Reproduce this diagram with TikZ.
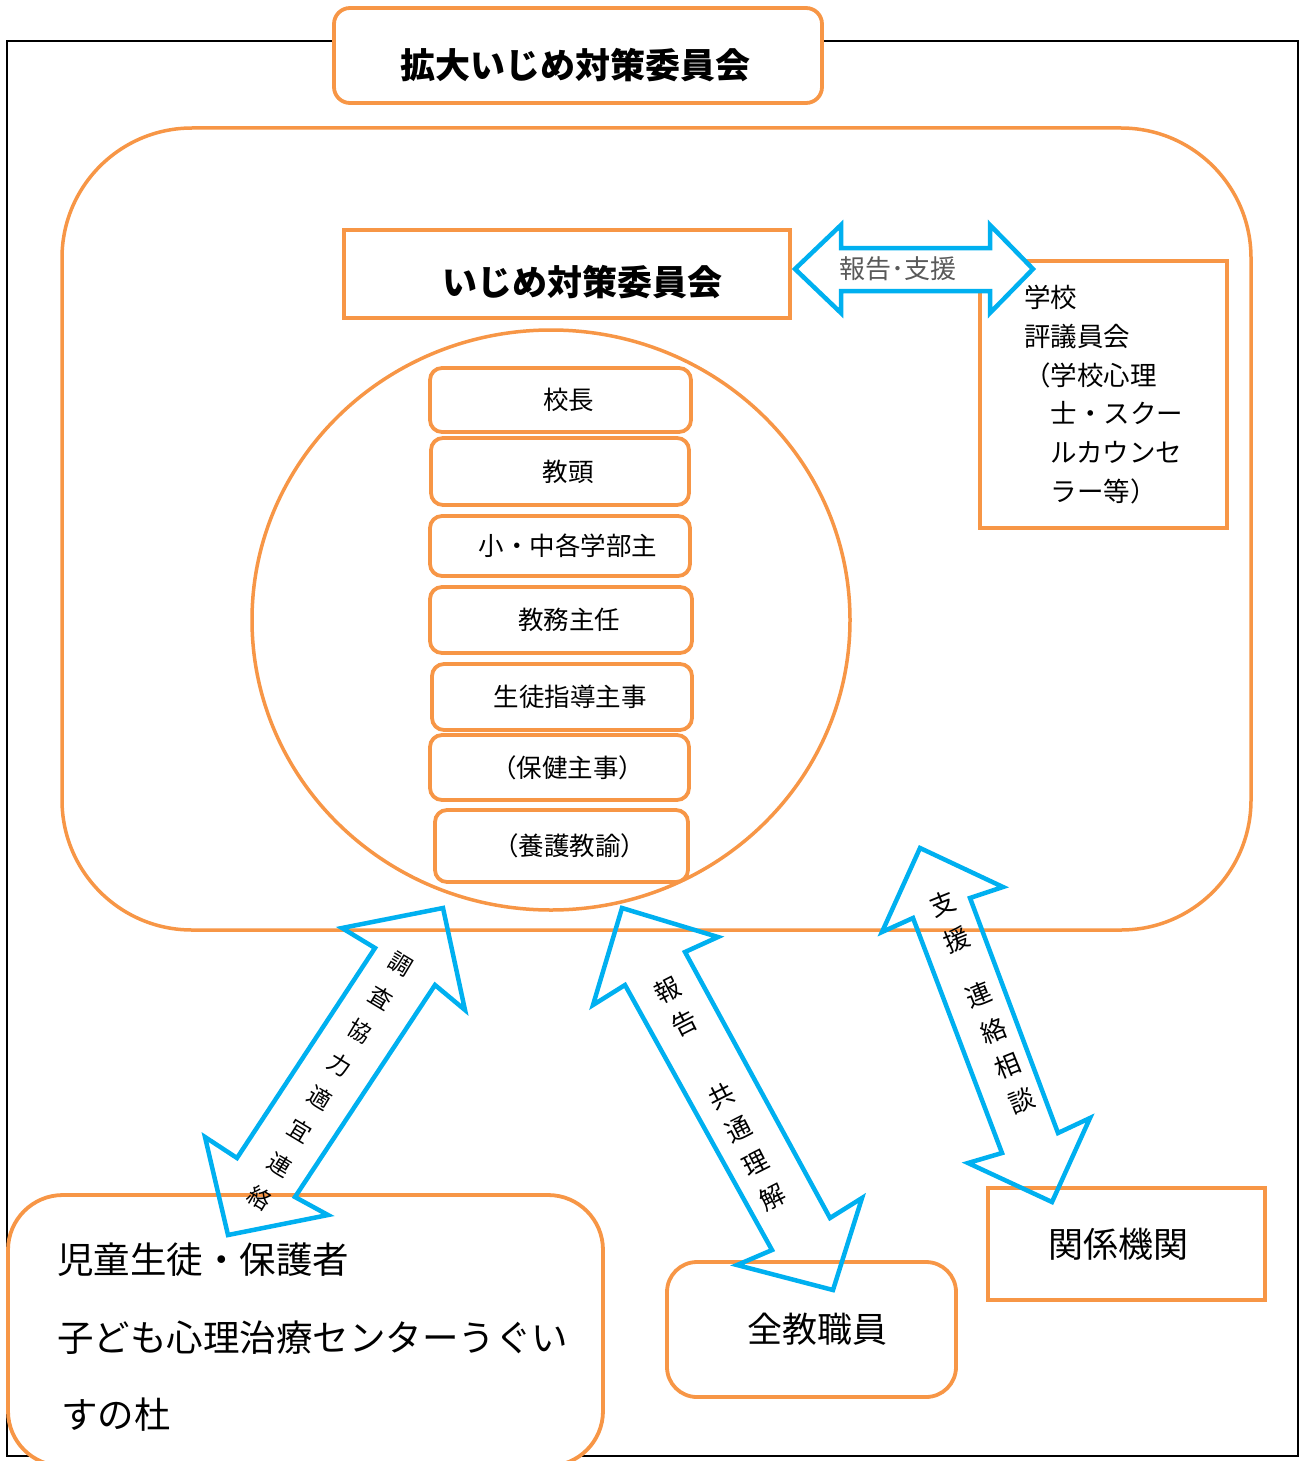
\documentclass[tikz,border=0pt]{standalone}
\usepackage{fontspec}
\setmainfont{Noto Sans CJK JP}
\usetikzlibrary{shapes.geometric}
\definecolor{org}{HTML}{F79646}
\definecolor{sky}{HTML}{00B0F0}
\definecolor{lbl}{HTML}{595959}
\begin{document}
\begin{tikzpicture}[x=1pt,y=-1pt,
  every node/.style={inner sep=0pt, outer sep=0pt},
  obox/.style={draw=org, line width=3.8pt, fill=white, rectangle},
  rbox/.style={obox, rounded corners=#1},
  stackbox/.style={obox, rounded corners=12pt, font=\fontsize{25.5}{30}\selectfont,
    execute at begin node={\hspace*{16pt}}},
  barrow/.style={draw=sky, line width=4.5pt, line join=miter},
  bigtext/.style={font=\fontsize{35}{40}\selectfont\bfseries}
]
\useasboundingbox (0,0) rectangle (1303,1461);

% outer frame
\node[draw=black, line width=1.3pt, minimum width=1291pt, minimum height=1415pt] (frame) at (652.5,748.5) {};

% title
\node[rbox=16pt, minimum width=488pt, minimum height=95pt] (title) at (578,55.5) {};
\node[bigtext] (titletext) at (575,65) {拡大いじめ対策委員会};

% big rounded area
\node[rbox=130pt, line width=3.5pt, minimum width=1189pt, minimum height=802pt] (area) at (656.5,529) {};

% circle
\node[draw=org, line width=3.5pt, fill=white, ellipse, minimum width=598pt, minimum height=580pt] (circ) at (551,620) {};

% committee box
\node[obox, minimum width=446pt, minimum height=88pt] (committee) at (567,274) {};
\node[bigtext] (committeetext) at (582,282) {いじめ対策委員会};

% stack
\node[stackbox, minimum width=261pt, minimum height=64pt] (s1) at (560.5,400) {校長};
\node[stackbox, minimum width=258pt, minimum height=67pt] (s2) at (560,471.5) {教頭};
\node[stackbox, minimum width=260pt, minimum height=60pt] (s3) at (560,546) {小・中各学部主};
\node[stackbox, minimum width=262pt, minimum height=66pt] (s4) at (561,620) {教務主任};
\node[stackbox, minimum width=260pt, minimum height=66pt] (s5) at (562,697) {生徒指導主事};
\node[stackbox, minimum width=259pt, minimum height=65pt] (s6) at (559.5,767.5) {（保健主事）};
\node[stackbox, minimum width=253pt, minimum height=72pt] (s7) at (561.5,846) {（養護教諭）};

% school council box
\node[obox, minimum width=247pt, minimum height=267pt, align=left,
  font=\fontsize{26.5}{38.8}\selectfont] (council) at (1103.5,394.5)
  {学校\\評議員会\\（学校心理\\　士・スクー\\　ルカウンセ\\　ラー等）};

% horizontal double arrow
\draw[barrow, fill=white] (795,269) -- (841,225) -- (841,248) -- (990,248) -- (990,225)
  -- (1033,269) -- (990,313) -- (990,291) -- (841,291) -- (841,313) -- cycle;
\node[font=\fontsize{26}{30}\selectfont, text=lbl] (hlabel) at (898,269) {報告･支援};

% bottom boxes
\node[rbox=55pt, minimum width=595pt, minimum height=271pt] (children) at (305.5,1330.5) {};
\node[align=left, anchor=west, font=\fontsize{36.5}{77.5}\selectfont] (childrentext) at (57,1337.5)
  {児童生徒・保護者\\子ども心理治療センターうぐい\\\hspace*{4pt}すの杜};
\node[rbox=30pt, minimum width=289pt, minimum height=135pt, font=\fontsize{35}{40}\selectfont,
  execute at begin node={\hspace*{12pt}}] (staff) at (811.5,1329.5) {全教職員};
\node[obox, minimum width=277pt, minimum height=112pt, font=\fontsize{35}{40}\selectfont,
  execute at begin node={\hspace*{-16pt}}] (agencies) at (1126.5,1244) {関係機関};

% diagonal double arrows
\draw[barrow] (443,908) -- (465,1010) -- (435,985) -- (295,1197) -- (328,1215) -- (228,1235)
  -- (205,1137) -- (237,1158) -- (375,948) -- (342,928) -- cycle;
\node[align=center, rotate=-31, font=\fontsize{23}{39}\selectfont] (a1text) at (330,1081.5)
  {調\\査\\協\\力\\適\\宜\\連\\絡};

\draw[barrow] (622,908) -- (718,937) -- (685,952) -- (830,1218) -- (862,1198) -- (833,1290)
  -- (737,1265) -- (772,1250) -- (625,985) -- (593,1005) -- cycle;
\node[align=center, rotate=27, font=\fontsize{25.5}{38}\selectfont] (a2text) at (720,1093.5)
  {報\\告\\[43pt]共\\通\\理\\解};

\draw[barrow] (920,848) -- (1003,887) -- (970,898) -- (1058,1133) -- (1090,1118) -- (1052,1202)
  -- (968,1163) -- (1002,1153) -- (913,918) -- (882,932) -- cycle;
\node[align=center, rotate=22, font=\fontsize{25.5}{38}\selectfont] (a3text) at (982,1002.5)
  {支\\援\\[22pt]連\\絡\\相\\談};
\end{tikzpicture}
\end{document}
